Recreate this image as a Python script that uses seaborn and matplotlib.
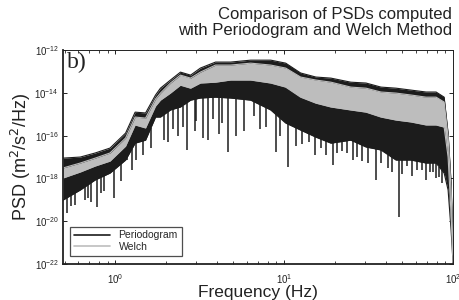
import numpy as np
import pandas as pd
import matplotlib
matplotlib.use("Agg")
import matplotlib.pyplot as plt
import matplotlib.ticker as mticker
from matplotlib.lines import Line2D
import seaborn as sns

# envelope of the spectra (Hz, log10 PSD)
freq = [0.49, 0.62, 0.76, 0.93, 1.15, 1.31, 1.51, 1.73, 1.85, 2.12, 2.43, 2.79,
        3.19, 3.92, 4.81, 6.33, 8.32, 10.2, 12.5, 15.4, 18.9, 24.8, 30.5, 37.4,
        45.9, 56.3, 69.2, 79.3, 88.5, 93.4, 97.3, 100.0]
perio_top = [-17.05, -17.0, -16.81, -16.58, -15.88, -14.90, -14.94, -14.10, -13.78, -13.40,
             -13.03, -13.17, -12.84, -12.56, -12.56, -12.47, -12.47, -12.61, -13.07, -13.26,
             -13.31, -13.50, -13.54, -13.73, -13.78, -13.87, -13.96, -13.96, -14.20, -15.88,
             -18.21, -21.35]
perio_bot = [-19.01, -18.54, -18.07, -17.75, -17.14, -16.35, -16.21, -15.13, -15.13, -14.80,
             -14.66, -14.34, -14.24, -14.20, -14.24, -14.34, -14.80, -15.41, -15.74, -16.07,
             -16.35, -16.21, -16.53, -16.67, -17.14, -17.14, -17.28, -17.28, -17.75, -18.54,
             -20.41, -22.0]
welch_top = [-17.51, -17.28, -17.05, -16.81, -16.11, -15.13, -15.18, -14.29, -14.01, -13.54,
             -13.17, -13.31, -13.03, -12.70, -12.70, -12.61, -12.70, -12.84, -13.26, -13.40,
             -13.50, -13.73, -13.78, -13.96, -14.01, -14.10, -14.20, -14.20, -14.43, -16.07,
             -18.54, -21.58]
welch_bot = [-17.98, -17.70, -17.42, -17.19, -16.49, -15.50, -15.64, -14.62, -14.34, -14.01,
             -13.64, -13.78, -13.54, -13.50, -13.40, -13.40, -13.54, -13.73, -14.20, -14.48,
             -14.66, -14.80, -14.90, -15.13, -15.27, -15.36, -15.50, -15.50, -15.60, -17.00,
             -19.71, -21.9]

# deepest periodogram dips (Hz, log10 PSD)
dip_freq = [0.55, 0.58, 0.66, 0.72, 0.78, 0.86, 0.98, 1.08, 1.18, 1.32, 1.45, 1.62,
            1.95, 2.06, 2.35, 2.64, 2.95, 3.3, 3.56, 4.1, 4.62, 5.2, 5.8, 7.2,
            8.9, 10.5, 11.8, 14.0, 16.5, 19.4, 22.0, 25.5, 29.0, 34.9, 41.0, 47.8,
            53.0, 61.0, 69.0, 76.0, 83.0,
            0.52, 0.69, 0.82, 1.25, 2.2, 2.5, 3.0, 3.8, 4.3, 6.6, 7.8, 9.5,
            12.8, 15.2, 17.6, 20.5, 23.5, 27.0, 31.5, 37.5, 43.5, 50.0, 57.0, 65.0,
            72.5, 79.5, 86.0]
dip_val = [-19.3, -19.24, -19.0, -19.1, -19.34, -18.6, -18.9, -18.1, -17.14, -17.14, -16.9, -16.6,
           -16.2, -16.3, -16.0, -16.67, -15.8, -16.1, -16.2, -15.9, -16.77, -16.0, -15.8, -15.7,
           -16.77, -17.47, -16.5, -16.3, -16.6, -17.37, -16.7, -17.14, -17.2, -18.07, -17.5, -19.8,
           -17.4, -17.6, -18.07, -17.7, -17.93,
           -19.6, -18.9, -18.7, -17.6, -15.7, -15.6, -15.3, -15.2, -15.4, -15.1, -15.6, -16.0,
           -16.4, -16.9, -16.9, -16.8, -16.8, -17.0, -17.3, -17.3, -17.7, -17.8, -17.9, -17.6,
           -17.7, -18.0, -18.2]

df = pd.DataFrame({"freq": freq,
                   "perio_top": np.power(10.0, perio_top), "perio_bot": np.power(10.0, perio_bot),
                   "welch_top": np.power(10.0, welch_top), "welch_bot": np.power(10.0, welch_bot)})

sns.set_theme(style="ticks")
plt.rcParams["font.family"] = ["Liberation Sans", "DejaVu Sans"]

black = "#1c1c1c"
grey = "#bdbdbd"
ink = "#222222"

fig = plt.figure(figsize=(4.6, 3.0), dpi=100)
ax = fig.add_axes([0.137, 0.12, 0.848, 0.713])

# periodogram: dense black band plus dips
ax.fill_between(df["freq"], df["perio_bot"], df["perio_top"], color=black, lw=0)
sns.lineplot(data=df, x="freq", y="perio_top", ax=ax, color=black, lw=0.8)
sns.lineplot(data=df, x="freq", y="perio_bot", ax=ax, color=black, lw=0.8)
band_bot = np.interp(np.log10(dip_freq), np.log10(freq), perio_bot)
ax.vlines(dip_freq, np.power(10.0, dip_val), np.power(10.0, band_bot), color=black, lw=1.1)

# Welch: grey band on top
ax.fill_between(df["freq"], df["welch_bot"], df["welch_top"], color=grey, lw=0)
sns.lineplot(data=df, x="freq", y="welch_top", ax=ax, color=grey, lw=0.8)
sns.lineplot(data=df, x="freq", y="welch_bot", ax=ax, color=grey, lw=0.8)

ax.set_xscale("log")
ax.set_yscale("log")
ax.set_xlim(0.49, 100)
ax.set_ylim(1e-22, 1e-12)
ax.yaxis.set_major_locator(mticker.FixedLocator([1e-22, 1e-20, 1e-18, 1e-16, 1e-14, 1e-12]))
ax.yaxis.set_minor_locator(mticker.NullLocator())
ax.xaxis.set_minor_locator(mticker.LogLocator(base=10, subs=np.arange(2, 10), numticks=20))

ax.tick_params(which="both", direction="in", top=True, right=True, colors=ink,
               labelsize=7, pad=3)
ax.tick_params(which="major", length=3, width=0.7)
ax.tick_params(which="minor", length=2, width=0.6)
ax.tick_params(axis="x", which="major", pad=6)
for side in ["left", "bottom"]:
    ax.spines[side].set_linewidth(1.3)
for side in ["top", "right"]:
    ax.spines[side].set_linewidth(0.7)
for sp in ax.spines.values():
    sp.set_color(ink)

ax.set_xlabel("Frequency (Hz)", fontsize=12.5, color=ink, labelpad=-1)
ax.set_ylabel("PSD (m$^2$/s$^2$/Hz)", fontsize=13, color=ink, labelpad=1)
fig.text(0.983, 0.975, "Comparison of PSDs computed\nwith Periodogram and Welch Method",
         ha="right", va="top", fontsize=12, color=ink, linespacing=1.05)

ax.text(0.01, 0.99, "b)", transform=ax.transAxes, ha="left", va="top",
        fontsize=17, family="Liberation Serif", color=ink)

handles = [Line2D([], [], color=black, lw=1.2), Line2D([], [], color=grey, lw=1.2)]
leg = ax.legend(handles, ["Periodogram", "Welch"], loc="lower left", fontsize=7.5,
                frameon=True, fancybox=False, borderpad=0.35, handlelength=3.5,
                labelspacing=0.15, bbox_to_anchor=(0.005, 0.015))
leg.get_frame().set_edgecolor(ink)
leg.get_frame().set_linewidth(0.9)

fig.savefig("out.png", dpi=100)
